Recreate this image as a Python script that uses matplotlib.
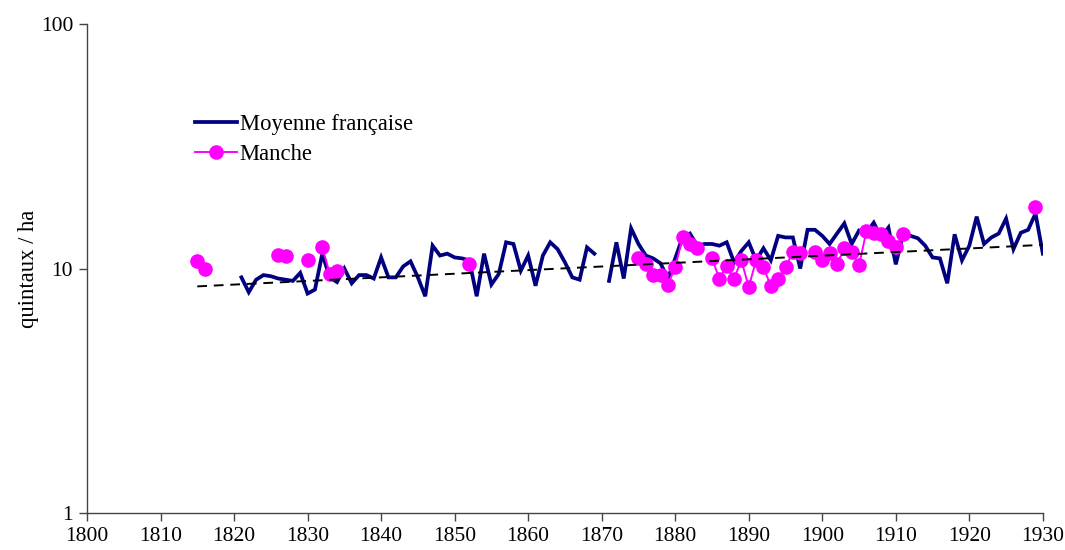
import numpy as np
import matplotlib
matplotlib.use('Agg')
import matplotlib.pyplot as plt
from matplotlib.ticker import FixedLocator, NullLocator, FixedFormatter

plt.rcParams['font.family'] = ['Liberation Serif', 'DejaVu Serif']

# Moyenne française (1821-1930, no value for 1870)
france_years = list(range(1821, 1931))
france_vals = [9.2, 8.0, 9.0, 9.4, 9.3, 9.1, 9.0, 8.9, 9.6, 7.9,   # 1821-1830
               8.2, 11.5, 9.2, 8.8, 10.0, 8.7, 9.4, 9.4, 9.1, 11.1,  # 1831-1840
               9.2, 9.2, 10.2, 10.7, 9.2, 7.7, 12.4, 11.3, 11.5, 11.1,  # 1841-1850
               11.0, 10.8, 7.7, 11.5, 8.6, 9.5, 12.8, 12.6, 9.8, 11.3,  # 1851-1860
               8.5, 11.3, 12.8, 12.0, 10.6, 9.2, 9.0, 12.2, 11.5, np.nan,  # 1861-1870
               8.9, 12.8, 9.1, 14.6, 12.6, 11.3, 11.0, 10.5, 9.1, 11.0,  # 1871-1880
               13.4, 13.9, 12.4, 12.6, 12.6, 12.4, 12.8, 10.6, 11.8, 12.8,  # 1881-1890
               10.8, 12.1, 10.8, 13.6, 13.4, 13.4, 10.0, 14.4, 14.4, 13.6,  # 1891-1900
               12.6, 13.9, 15.3, 12.6, 14.3, 14.0, 15.4, 13.4, 14.7, 10.4,  # 1901-1910
               13.9, 13.6, 13.3, 12.4, 11.1, 11.0, 8.7, 13.8, 10.8, 12.4,  # 1911-1920
               16.3, 12.6, 13.4, 13.9, 16.0, 12.0, 14.0, 14.4, 16.8, 11.5]  # 1921-1930

# Manche (sparse)
manche_years = [1815, 1816, 1817,
                1826, 1827, 1828, 1830, 1831, 1832, 1833, 1834, 1835,
                1852, 1853,
                1875, 1876, 1877, 1878, 1879, 1880, 1881, 1882, 1883, 1884,
                1885, 1886, 1887, 1888, 1889, 1890, 1891, 1892, 1893, 1894,
                1895, 1896, 1897, 1898, 1899, 1900, 1901, 1902, 1903, 1904,
                1905, 1906, 1907, 1908, 1909, 1910, 1911, 1912,
                1929]
manche_vals = [10.7, 10.0, np.nan,
               11.4, 11.3, np.nan, 10.8, np.nan, 12.3, 9.5, 9.8, np.nan,
               10.4, np.nan,
               11.0, 10.4, 9.4, 9.4, 8.6, 10.1, 13.4, 12.6, 12.1, np.nan,
               11.0, 9.1, 10.2, 9.1, 10.8, 8.4, 10.8, 10.1, 8.5, 9.1,
               10.1, 11.7, 11.6, np.nan, 11.7, 10.8, 11.6, 10.4, 12.1, 11.7,
               10.3, 14.2, 14.0, 13.9, 13.0, 12.2, 13.9, np.nan,
               17.9]

# trend line end points
trend_years = [1815, 1930]
trend_vals = [8.45, 12.5]

xticks = list(range(1800, 1931, 10))
yticks = [1, 10, 100]

fig = plt.figure(figsize=(10.65, 5.5), dpi=100)
ax = fig.add_axes([0.0817, 0.0673, 0.8975, 0.889])

ax.plot(france_years, france_vals, color='#000080', lw=2.7, label='Moyenne française',
        solid_joinstyle='miter', zorder=2)
ax.plot(manche_years, manche_vals, color='#FF00FF', lw=1.4, marker='o', ms=9.5,
        label='Manche', zorder=3)
ax.plot(trend_years, trend_vals, color='black', lw=1.4, ls=(0, (5, 3.5)), zorder=4)

ax.set_yscale('log')
ax.set_ylim(1, 100)
ax.set_xlim(1800, 1930)
ax.yaxis.set_major_locator(FixedLocator(yticks))
ax.yaxis.set_major_formatter(FixedFormatter([str(v) for v in yticks]))
ax.yaxis.set_minor_locator(NullLocator())
ax.set_xticks(xticks)

for s in ['top', 'right']:
    ax.spines[s].set_visible(False)
for s in ['left', 'bottom']:
    ax.spines[s].set_color('#444444')
    ax.spines[s].set_linewidth(1.0)
ax.tick_params(axis='both', direction='out', length=6, width=1.0, color='#444444',
               labelsize=15.5, labelcolor='black', pad=4)
ax.set_ylabel('quintaux / ha', fontsize=16.3, labelpad=1)

ax.legend(loc='upper left', bbox_to_anchor=(0.1035, 0.835), frameon=False, fontsize=16.3,
          handlelength=1.85, handletextpad=0.12, labelspacing=0.42, borderaxespad=0)

fig.savefig('out.png', dpi=100)
